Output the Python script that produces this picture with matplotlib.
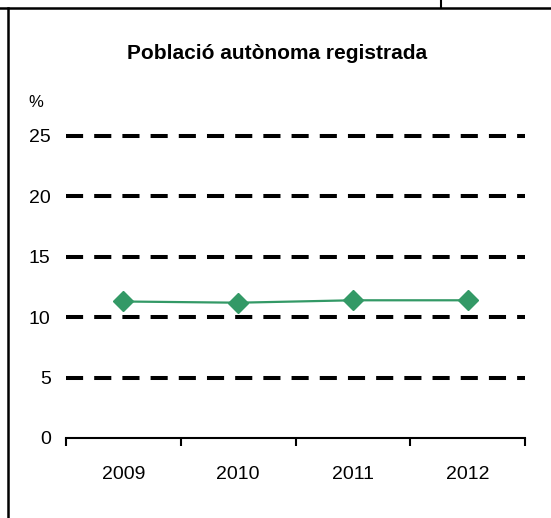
import matplotlib
matplotlib.use("Agg")
import matplotlib.pyplot as plt
from matplotlib.lines import Line2D

plt.rcParams['font.family'] = ['Liberation Sans', 'DejaVu Sans']

years = ["2009", "2010", "2011", "2012"]
values = [11.3, 11.2, 11.4, 11.4]
y_ticks = [0, 5, 10, 15, 20, 25]
title = "Població autònoma registrada"
green = "#339966"

W, H = 551, 518
fig = plt.figure(figsize=(W / 100, H / 100), dpi=100)
ax = fig.add_axes([66 / W, 80 / H, (525 - 66) / W, (438 - 136) / H])

x_pos = [i + 0.5 for i in range(len(years))]

# dashed horizontal gridlines (not at 0, the axis sits there)
for v in y_ticks[1:]:
    ax.axhline(v, color="black", lw=2.9, ls=(0, (4.25, 2.75)), clip_on=False, zorder=1)

ax.plot(x_pos, values, color=green, lw=1.6, marker="D", ms=10,
        markerfacecolor=green, markeredgecolor=green, zorder=3, clip_on=False)

ax.set_xlim(0, len(years))
ax.set_ylim(0, 25)
ax.set_yticks(y_ticks)
ax.set_yticklabels([str(v) for v in y_ticks])
ax.tick_params(axis="y", length=0, pad=11, labelsize=14)

ax.set_xticks(range(len(years) + 1))
ax.set_xticklabels([])
ax.set_xticks(x_pos, minor=True)
ax.set_xticklabels(years, minor=True)
ax.tick_params(axis="x", which="major", direction="out", length=6, width=1.5)
ax.tick_params(axis="x", which="minor", length=0, pad=20, labelsize=14)

for s in ["top", "right", "left"]:
    ax.spines[s].set_visible(False)
ax.spines["bottom"].set_linewidth(1.5)

fig.text(277 / W, 1 - 59 / H, title, ha="center", va="baseline",
         fontsize=15, fontweight="bold")
fig.text(36 / W, 1 - 103 / H, "%", ha="center", va="center", fontsize=12)

# frame lines around the chart
fig.add_artist(Line2D([0, 1], [1 - 8 / H, 1 - 8 / H], color="black", lw=1.8,
                      transform=fig.transFigure))
fig.add_artist(Line2D([8 / W, 8 / W], [0, 1 - 8 / H], color="black", lw=1.8,
                      transform=fig.transFigure))
fig.add_artist(Line2D([441 / W, 441 / W], [1 - 8 / H, 1], color="black", lw=1.5,
                      transform=fig.transFigure))

fig.savefig("out.png", dpi=100)
